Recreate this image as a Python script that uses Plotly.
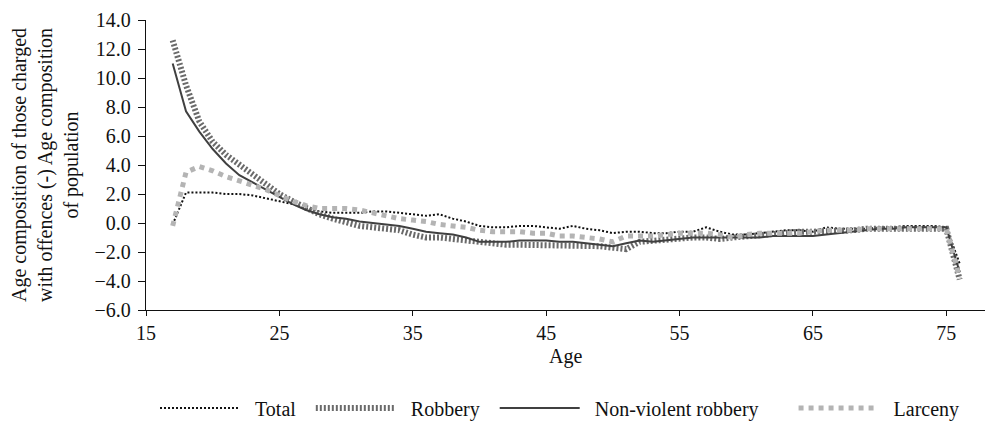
import plotly.graph_objects as go

ages = list(range(17, 77))

total = [-0.1, 2.1, 2.1, 2.1, 2.0, 2.0, 1.9, 1.7, 1.5, 1.3,
         1.0, 0.8, 0.7, 0.7, 0.7, 0.8, 0.8, 0.7, 0.6, 0.5,
         0.6, 0.3, 0.1, -0.2, -0.3, -0.3, -0.2, -0.2, -0.3, -0.4,
         -0.2, -0.4, -0.5, -0.7, -0.6, -0.6, -0.7, -0.7, -0.6, -0.6,
         -0.3, -0.6, -0.8, -0.8, -0.7, -0.6, -0.5, -0.5, -0.6, -0.3,
         -0.4, -0.4, -0.4, -0.3, -0.3, -0.2, -0.2, -0.2, -0.3, -2.8]

robbery = [12.6, 9.5, 7.0, 5.6, 4.7, 4.0, 3.3, 2.7, 2.0, 1.5,
           1.0, 0.6, 0.3, 0.0, -0.2, -0.3, -0.4, -0.5, -0.8, -1.0,
           -1.0, -1.1, -1.2, -1.4, -1.5, -1.5, -1.5, -1.5, -1.5, -1.5,
           -1.5, -1.6, -1.6, -1.7, -1.8, -1.3, -1.2, -1.1, -1.0, -1.0,
           -1.0, -1.1, -1.0, -0.9, -0.8, -0.7, -0.7, -0.6, -0.6, -0.6,
           -0.5, -0.5, -0.4, -0.4, -0.3, -0.3, -0.3, -0.3, -0.4, -3.9]

nonviolent = [11.0, 7.7, 6.3, 5.1, 4.1, 3.3, 2.8, 2.3, 1.8, 1.3,
              0.9, 0.6, 0.4, 0.3, 0.1, 0.0, -0.1, -0.2, -0.4, -0.6,
              -0.7, -0.8, -1.0, -1.3, -1.3, -1.3, -1.2, -1.2, -1.2, -1.3,
              -1.3, -1.4, -1.5, -1.6, -1.4, -1.2, -1.3, -1.2, -1.1, -1.0,
              -1.0, -1.0, -1.0, -1.0, -1.0, -0.9, -0.9, -0.9, -0.9, -0.8,
              -0.7, -0.6, -0.5, -0.4, -0.4, -0.3, -0.3, -0.3, -0.3, -3.4]

larceny = [-0.2, 3.5, 3.9, 3.6, 3.2, 2.9, 2.6, 2.3, 1.9, 1.5,
           1.2, 1.0, 1.0, 1.0, 0.9, 0.7, 0.5, 0.3, 0.2, 0.1,
           -0.1, -0.2, -0.3, -0.5, -0.6, -0.6, -0.6, -0.7, -0.7, -0.9,
           -0.9, -1.0, -1.1, -1.3, -0.9, -0.9, -0.9, -0.8, -0.7, -0.7,
           -0.7, -0.8, -1.0, -0.8, -0.7, -0.7, -0.7, -0.7, -0.6, -0.5,
           -0.5, -0.5, -0.4, -0.4, -0.4, -0.4, -0.4, -0.4, -0.4, -3.8]

x_ticks = [15, 25, 35, 45, 55, 65, 75]
y_ticks = [14, 12, 10, 8, 6, 4, 2, 0, -2, -4, -6]
y_tick_text = ["14.0", "12.0", "10.0", "8.0", "6.0", "4.0", "2.0", "0.0",
               "\u22122.0", "\u22124.0", "\u22126.0"]

NB = "\u00a0"
names = [NB * 2 + "Total" + NB * 2, NB * 2 + "Robbery" + NB * 2,
         NB * 2 + "Non-violent robbery" + NB * 6, NB * 2 + "Larceny"]

FONT = "Liberation Serif, Tinos, Times New Roman, DejaVu Serif, serif"
FS = 20

fig = go.Figure()
fig.add_trace(go.Scatter(x=ages, y=total, name=names[0], mode="lines",
                         line=dict(color="#111111", width=2, dash="2px,2px")))
fig.add_trace(go.Scatter(x=ages, y=robbery, name=names[1], mode="lines",
                         line=dict(color="#6a6a6a", width=6, dash="2px,2px")))
fig.add_trace(go.Scatter(x=ages, y=nonviolent, name=names[2], mode="lines",
                         line=dict(color="#404040", width=2)))
fig.add_trace(go.Scatter(x=ages, y=larceny, name=names[3], mode="lines",
                         line=dict(color="#b4b4b4", width=5, dash="5px,5px")))

# figure placed at an 8px page offset; coordinates below are figure pixels
W, H = 988, 417
L, R, T, B = 138, 11, 12, 115
pw = W - L - R
ph = H - T - B

fig.update_layout(
    width=W, height=H,
    margin=dict(l=L, r=R, t=T, b=B, autoexpand=False),
    paper_bgcolor="white", plot_bgcolor="white",
    font=dict(family=FONT, size=FS, color="#111111"),
    xaxis=dict(range=[15, 77.9], tickvals=x_ticks, ticks="outside", ticklen=5,
               tickcolor="#111111", tickfont=dict(family=FONT, size=FS, color="#111111"),
               showline=True, linecolor="#111111", linewidth=1.3, showgrid=False,
               zeroline=False, automargin=False),
    yaxis=dict(range=[-6, 14], tickvals=y_ticks, ticktext=y_tick_text, ticks="outside",
               ticklen=7, ticklabelstandoff=3, tickcolor="#111111",
               tickfont=dict(family=FONT, size=FS, color="#111111"),
               showline=True, linecolor="#111111", linewidth=1.3,
               showgrid=False, zeroline=False, automargin=False),
    legend=dict(orientation="h", xref="container", yref="container",
                x=552 / W, xanchor="center", y=1 - 400 / H, yanchor="middle",
                font=dict(family=FONT, size=FS, color="#111111"), itemwidth=80,
                traceorder="normal"),
    showlegend=True,
    annotations=[
        dict(text="Age composition of those charged<br>with offences (-) Age composition<br>of population",
             textangle=-90, xref="paper", yref="paper", x=(37 - L) / pw, y=0.5,
             xanchor="center", yanchor="middle", showarrow=False,
             font=dict(family=FONT, size=FS, color="#111111")),
        dict(text="Age", xref="paper", yref="paper", x=0.5, y=(302 - 348) / ph,
             xanchor="center", yanchor="middle", showarrow=False,
             font=dict(family=FONT, size=FS, color="#111111")),
    ],
)

fig.write_html("out.html")
